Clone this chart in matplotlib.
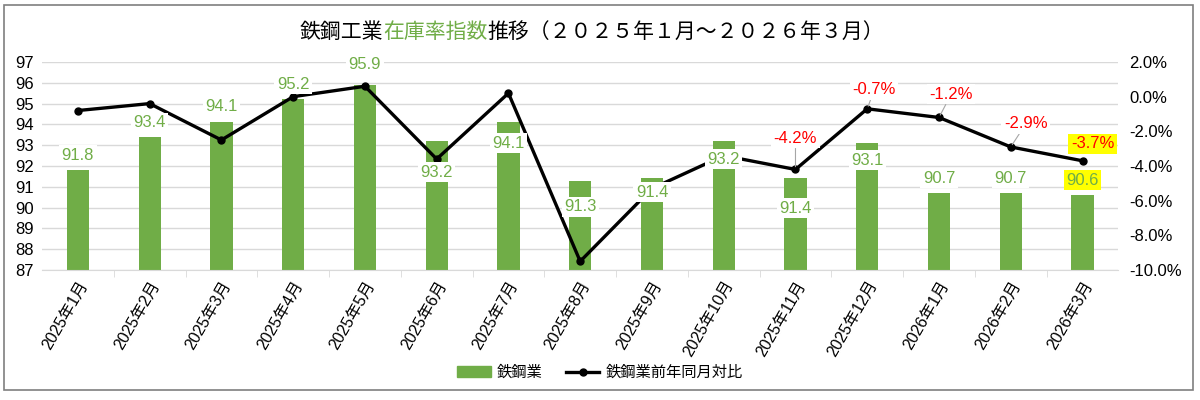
import matplotlib.pyplot as plt
import matplotlib.patches as mpatches
from matplotlib.lines import Line2D
from matplotlib.ticker import FuncFormatter, FixedLocator
import numpy as np

plt.rcParams['font.family'] = ['Liberation Sans', 'Noto Sans CJK JP', 'DejaVu Sans']

months = ["2025年1月", "2025年2月", "2025年3月", "2025年4月", "2025年5月", "2025年6月",
          "2025年7月", "2025年8月", "2025年9月", "2025年10月", "2025年11月", "2025年12月",
          "2026年1月", "2026年2月", "2026年3月"]
index_vals = [91.8, 93.4, 94.1, 95.2, 95.9, 93.2, 94.1, 91.3, 91.4, 93.2, 91.4, 93.1, 90.7, 90.7, 90.6]
yoy_vals = [-0.8, -0.4, -2.5, 0.0, 0.6, -3.6, 0.2, -9.5, -5.3, -3.4, -4.2, -0.7, -1.2, -2.9, -3.7]
yoy_label_idx = [10, 11, 12, 13, 14]

# label placement (pixels from the mark, positive = down)
bar_lbl_dy = [-15, -14, -16, -15, -20, 31, 21, 26, 14, 18, 30, 17, -15, -15, -15]
yoy_lbl_off = [(0, -31), (7, -19), (12, -23), (15, -23), (10, -17)]

green = "#70AD47"
red = "#FF0000"

fig = plt.figure(figsize=(12, 4), dpi=100)
fig.patches.append(mpatches.Rectangle((0.003, 0.025), 0.991, 0.963, transform=fig.transFigure,
                                      fill=False, edgecolor="#7f7f7f", linewidth=1.2))

ax = fig.add_axes([0.035, 0.325, 0.897, 0.52])
x = np.arange(len(months))
ax.bar(x, index_vals, width=0.31, color=green, zorder=2)
ax.set_ylim(87, 97)
ax.set_xlim(-0.5, len(months) - 0.5)
ax.set_yticks(range(87, 98))
ax.grid(axis='y', color="#d9d9d9", linewidth=1, zorder=0)
for s in ['top', 'right', 'left']:
    ax.spines[s].set_visible(False)
ax.spines['bottom'].set_color("#d9d9d9")
ax.tick_params(axis='y', length=0, labelsize=12, pad=6)
ax.set_xticks(x)
ax.set_xticklabels(months, rotation=60, ha='right', rotation_mode='anchor', fontsize=11.5)
ax.tick_params(axis='x', length=0, pad=6)
ax.xaxis.set_minor_locator(FixedLocator(x[:-1] + 0.5))
ax.tick_params(axis='x', which='minor', length=5, color="#d9d9d9")

ax2 = ax.twinx()
ax2.plot(x, yoy_vals, color="black", linewidth=2.4, marker='o', markersize=5, zorder=3)
ax2.set_ylim(-10, 2)
ax2.set_yticks(range(-10, 3, 2))
ax2.yaxis.set_major_formatter(FuncFormatter(lambda v, p: f"{v:.1f}%"))
ax2.tick_params(axis='y', length=0, labelsize=12, pad=8)
for s in ['top', 'right', 'left', 'bottom']:
    ax2.spines[s].set_visible(False)

# bar labels (white boxes drawn over bars and line)
for i, v in enumerate(index_vals):
    fc = "#FFFF00" if i == len(index_vals) - 1 else "white"
    ax2.annotate(f"{v}", xy=(x[i], v), xycoords=ax.transData,
                 xytext=(0, -bar_lbl_dy[i]), textcoords='offset pixels',
                 ha='center', va='center', fontsize=12, color=green, zorder=5,
                 bbox=dict(boxstyle='square,pad=0.15', fc=fc, ec='none'))

# YoY labels
for k, i in enumerate(yoy_label_idx):
    fc = "#FFFF00" if i == len(months) - 1 else "white"
    dx, dy = yoy_lbl_off[k]
    ax2.annotate(f"{yoy_vals[i]:.1f}%", xy=(x[i], yoy_vals[i]),
                 xytext=(dx, -dy), textcoords='offset pixels',
                 ha='center', va='center', fontsize=12, color=red, zorder=6,
                 bbox=dict(boxstyle='square,pad=0.15', fc=fc, ec='none'),
                 arrowprops=dict(arrowstyle='-', color="#a6a6a6", lw=0.8,
                                 shrinkA=0, shrinkB=2) if fc == "white" else None)

# title with green middle part
fig.canvas.draw()
r = fig.canvas.get_renderer()
parts = [("鉄鋼工業", "black"), ("在庫率指数", green), ("推移（２０２５年１月～２０２６年３月）", "black")]
texts = []
for s, c in parts:
    texts.append(fig.text(0, 0.92, s, color=c, fontsize=15, va='center', ha='left',
                          family=['Noto Sans CJK JP', 'DejaVu Sans']))
widths = [t.get_window_extent(r).width for t in texts]
total = sum(widths)
xpos = 592 - total / 2
for t, w in zip(texts, widths):
    t.set_x(xpos / 1200)
    xpos += w

handles = [mpatches.Patch(color=green, label="鉄鋼業"),
           Line2D([0], [0], color="black", linewidth=2.4, marker='o', markersize=5, label="鉄鋼業前年同月対比")]
fig.legend(handles=handles, loc='center', bbox_to_anchor=(0.5, 0.068), ncol=2, frameon=False,
           fontsize=11, handlelength=2.2, columnspacing=1.5, handletextpad=0.4)

fig.savefig("out.png", dpi=100)
